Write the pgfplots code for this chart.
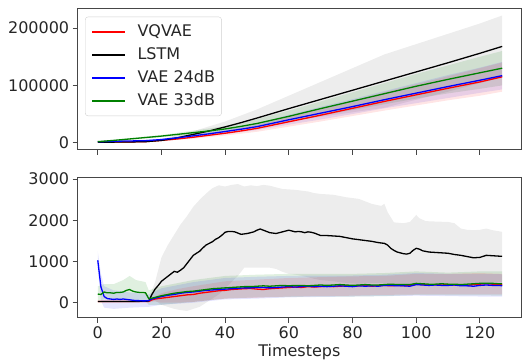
\documentclass[border=0pt]{standalone}
\usepackage{pgfplots}
\pgfplotsset{compat=1.18}
\usepackage{pgfplotstable}
\usepgfplotslibrary{fillbetween}
\usepackage{fontspec}
\setmainfont{DejaVu Sans}

\definecolor{mplgreen}{RGB}{0,128,0}
\definecolor{spine}{RGB}{70,70,70}
\definecolor{txt}{RGB}{38,38,38}

% ---------------- top panel: lines ----------------
\pgfplotstableread{
t v
0 800
5 1000
10 1300
15 1700
20 4000
25 8500
30 14500
35 20500
40 27500
45 35000
50 43000
60 59500
70 75500
80 91500
90 107500
100 123500
110 139500
120 156000
127 168000
}\topLSTM
\pgfplotstableread{
t v
0 800
5 1000
10 1300
15 1800
20 4000
25 6500
30 9500
35 13000
40 16500
45 20500
50 25000
60 36500
70 48000
80 60000
90 72000
100 83500
110 95000
120 106000
127 115000
}\topVQ
\pgfplotstableread{
t v
0 1500
5 2500
10 3000
15 3500
20 5500
25 8500
30 12000
35 15500
40 19500
45 23500
50 28000
60 40000
70 51500
80 63000
90 75000
100 86500
110 98000
120 109000
127 117000
}\topVAEa
\pgfplotstableread{
t v
0 1800
5 4000
10 6500
15 9000
20 11500
25 14500
30 17500
35 20500
40 24000
45 28500
50 33500
60 46000
70 59500
80 72500
90 85500
100 98500
110 110500
120 122000
127 130000
}\topVAEb
% ---------------- top panel: bands ----------------
\pgfplotstableread{
t u l
0 1000 600
15 2000 1400
20 6000 2000
30 20000 9000
40 37000 18000
50 58000 28000
60 82000 37000
70 106000 45000
80 130000 53000
90 154000 61000
100 172000 75000
110 190000 89000
120 208000 104000
127 222000 114000
}\topBandLSTM
\pgfplotstableread{
t u l
0 2500 1200
10 8000 5000
20 13500 9500
30 21000 14000
40 29000 19000
50 41000 26000
60 56000 36000
70 72000 47000
80 88000 57000
90 104000 67000
100 120000 77000
110 135000 86000
120 150000 94000
127 160000 100000
}\topBandB
\pgfplotstableread{
t u l
0 2000 1000
10 3800 2200
20 7000 4000
30 15000 9000
40 24000 15000
50 34000 22000
60 48500 31500
70 62500 40500
80 76000 50000
90 90000 60000
100 104000 69000
110 118000 78000
120 131000 87000
127 141000 93000
}\topBandA
\pgfplotstableread{
t u l
0 1100 500
10 1700 900
20 5000 3000
30 12000 7000
40 20500 12500
50 31000 19000
60 45000 28000
70 59000 37000
80 73500 46500
90 88000 56000
100 102000 65000
110 116000 74000
120 130000 82000
127 140000 89000
}\topBandVQ

% ---------------- bottom panel: lines ----------------
\pgfplotstableread{
t v
0 30
4 30
8 30
12 30
16 40
17 200
18 330
19 420
20 520
21 580
22 640
23 700
24 760
25 740
26 790
27 850
28 950
29 1050
30 1150
31 1200
32 1250
33 1330
34 1400
35 1440
36 1480
37 1540
38 1580
39 1640
40 1710
41 1730
42 1730
43 1720
44 1690
45 1660
46 1670
47 1680
48 1700
49 1720
50 1760
51 1790
52 1760
53 1730
54 1700
55 1690
56 1680
57 1700
58 1720
59 1740
60 1760
61 1740
62 1720
63 1730
64 1720
65 1700
66 1720
67 1710
68 1690
69 1660
70 1630
72 1630
74 1620
76 1610
78 1580
80 1550
82 1530
84 1510
86 1490
88 1460
90 1440
91 1400
92 1320
93 1270
94 1230
96 1190
97 1180
98 1200
99 1270
100 1320
101 1300
102 1260
104 1230
106 1220
108 1210
110 1200
112 1170
114 1150
116 1120
118 1090
120 1100
122 1150
124 1140
126 1130
127 1130
}\botLSTM
\pgfplotstableread{
t v
0 30
16 30
17 70
18 90
20 110
22 130
24 150
26 170
28 190
30 200
32 230
34 250
36 270
38 290
40 300
42 320
44 330
46 340
48 345
50 330
52 320
54 340
56 350
58 360
60 370
62 380
64 370
66 390
68 380
70 390
72 400
74 390
76 400
78 410
80 400
82 410
84 420
86 400
88 410
90 420
92 410
94 420
96 410
98 420
100 450
102 440
104 430
106 440
108 430
110 440
112 430
114 430
116 420
118 440
120 450
122 460
124 450
126 450
127 440
}\botVQ
\pgfplotstableread{
t v
0 1030
1 380
2 150
3 100
4 90
5 80
6 90
7 80
8 90
9 80
10 70
11 60
12 50
13 50
14 45
15 45
16 50
17 90
18 110
20 150
22 180
24 200
26 230
28 250
30 260
32 280
34 300
36 310
38 320
40 330
42 340
44 350
46 360
48 360
50 370
52 370
54 360
56 370
58 380
60 390
62 380
64 390
66 400
68 390
70 400
72 390
74 400
76 410
78 400
80 390
82 410
84 400
86 410
88 400
90 420
92 420
94 410
96 410
98 400
100 440
102 430
104 420
106 430
108 420
110 420
112 430
114 410
116 410
118 400
120 420
122 430
124 420
126 420
127 410
}\botVAEa
\pgfplotstableread{
t v
0 210
1 200
2 260
3 240
4 240
5 230
6 250
7 250
8 260
9 300
10 320
11 280
12 260
13 250
14 250
15 240
16 100
17 110
18 130
20 170
22 200
24 230
26 250
28 270
30 280
32 300
34 320
36 340
38 350
40 360
42 370
44 380
46 390
48 390
50 400
52 410
54 400
56 410
58 420
60 410
62 420
64 420
66 410
68 420
70 430
72 420
74 430
76 440
78 430
80 420
82 430
84 440
86 430
88 430
90 440
92 450
94 440
96 440
98 440
100 470
102 460
104 450
106 450
108 460
110 450
112 450
114 440
116 450
118 460
120 470
122 470
124 470
126 460
127 460
}\botVAEb
% ---------------- bottom panel: bands ----------------
\pgfplotstableread{
t u l
0 50 10
16 60 20
17 300 40
18 500 50
20 1100 -50
22 1400 -100
24 1650 -150
26 1900 -180
28 2100 -200
30 2330 -150
32 2500 -100
34 2650 0
36 2780 100
38 2850 200
40 2820 350
42 2860 500
44 2880 650
46 2820 850
48 2850 850
50 2830 850
52 2860 850
54 2840 850
56 2800 820
58 2760 750
60 2750 700
62 2740 680
64 2720 650
66 2700 620
68 2660 580
70 2640 550
74 2620 520
78 2560 480
82 2520 460
86 2400 480
89 2350 480
90 2400 470
91 2200 460
93 1950 450
96 1930 430
98 1960 420
100 2130 500
101 2050 490
103 1980 480
106 1970 470
110 1960 450
112 1930 450
114 1800 450
116 1770 450
118 1760 450
120 1770 450
122 1800 480
124 1760 490
127 1720 500
}\botBandLSTM
\pgfplotstableread{
t u l
0 50 10
16 50 10
18 150 30
20 230 0
25 330 0
30 400 20
40 520 100
50 560 120
60 600 150
70 620 160
80 640 170
90 650 190
100 700 200
110 700 200
120 720 200
127 700 200
}\botBandVQ
\pgfplotstableread{
t u l
0 1250 800
1 700 50
2 400 -120
5 300 -150
10 250 -120
16 200 -100
20 350 -50
30 500 0
40 600 80
50 630 100
60 650 130
70 660 140
80 660 150
90 680 160
100 720 170
110 700 160
120 700 150
127 690 150
}\botBandA
\pgfplotstableread{
t u l
0 400 50
2 450 80
5 450 60
8 550 80
10 650 60
12 550 50
15 500 40
16 300 -50
20 400 -50
30 550 20
40 650 100
50 680 130
60 700 140
70 700 150
80 700 150
90 720 160
100 760 190
110 730 180
120 760 180
127 760 170
}\botBandB

\newcommand\band[4]{%
  \addplot[draw=none, forget plot, name path=#2u] table[x=t,y=u]{#1};
  \addplot[draw=none, forget plot, name path=#2l] table[x=t,y=l]{#1};
  \addplot[fill=#3, fill opacity=#4, draw=none, forget plot] fill between[of=#2u and #2l];
}

\pgfplotsset{
  common/.style={
    scale only axis,
    width=443.3pt,
    xmin=-6.3, xmax=132.9,
    xtick={0,20,40,60,80,100,120},
    tick pos=left,
    tick align=outside,
    major tick length=5pt,
    every tick/.style={spine, line width=0.9pt},
    axis line style={spine, line width=0.9pt},
    tick label style={font=\fontsize{16}{19}\selectfont, text=txt,
      /pgf/number format/assume math mode=true,
      /pgf/number format/fixed, /pgf/number format/1000 sep={}},
    scaled ticks=false,
  },
}

\begin{document}
\begin{tikzpicture}

\begin{axis}[common,
  at={(77.7pt,210.5pt)}, anchor=south west,
  height=141.2pt,
  ymin=-11900, ymax=234500,
  ytick={0,100000,200000},
  xticklabels={},
  legend cell align=left,
  legend style={at={(0.0165,0.941)}, anchor=north west,
    draw=black!18, rounded corners=3pt, fill=white, fill opacity=0.8, text opacity=1,
    font=\fontsize{16}{19}\selectfont, text=txt,
    nodes={inner sep=0pt, text height=12pt, text depth=3.5pt},
    row sep=7.5pt, column sep=11.5pt, inner xsep=6.5pt, inner ysep=7.3pt},
  legend image code/.code={\draw[#1, line width=1.3pt] (0pt,0pt) -- (33pt,0pt);},
]
\band{\topBandLSTM}{tg}{black}{0.07}
\band{\topBandB}{tb}{mplgreen}{0.12}
\band{\topBandA}{ta}{blue}{0.10}
\band{\topBandVQ}{tr}{red}{0.10}
\addplot[red, line width=1.3pt] table[x=t,y=v]{\topVQ};
\addlegendentry{VQVAE}
\addplot[black, line width=1.3pt] table[x=t,y=v]{\topLSTM};
\addlegendentry{LSTM}
\addplot[blue, line width=1.3pt] table[x=t,y=v]{\topVAEa};
\addlegendentry{VAE 24dB}
\addplot[mplgreen, line width=1.3pt] table[x=t,y=v]{\topVAEb};
\addlegendentry{VAE 33dB}
\end{axis}

\begin{axis}[common,
  at={(77.7pt,42.3pt)}, anchor=south west,
  height=140.4pt,
  ymin=-364, ymax=3044,
  ytick={0,1000,2000,3000},
  xlabel={Timesteps},
  xlabel style={font=\fontsize{16}{19}\selectfont, text=txt,
    at={(axis description cs:0.5,-0.244)}, anchor=center},
]
\band{\botBandLSTM}{bg}{black}{0.07}
\band{\botBandB}{bb}{mplgreen}{0.12}
\band{\botBandA}{ba}{blue}{0.10}
\band{\botBandVQ}{br}{red}{0.10}
\addplot[red, line width=1.3pt] table[x=t,y=v]{\botVQ};
\addplot[black, line width=1.3pt] table[x=t,y=v]{\botLSTM};
\addplot[blue, line width=1.3pt] table[x=t,y=v]{\botVAEa};
\addplot[mplgreen, line width=1.3pt] table[x=t,y=v]{\botVAEb};
\end{axis}
\path (0,0) rectangle (522pt,360pt);
\end{tikzpicture}
\end{document}
